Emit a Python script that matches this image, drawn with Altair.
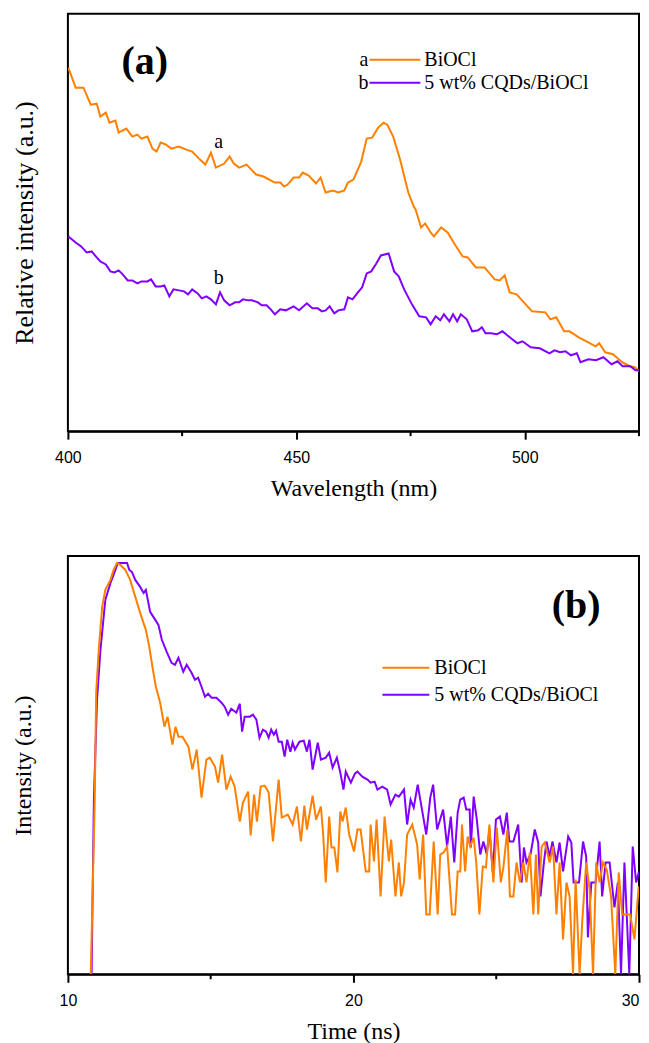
import altair as alt
import pandas as pd

# ---------------- Panel (a): PL spectra ----------------
wl_biocl = [400.1, 401.7, 403.4, 405.0, 406.3, 407.1, 408.3, 409.1, 410.4, 411.1, 412.8, 414.1, 415.2,
            416.1, 417.4, 418.5, 419.4, 420.3, 421.5, 422.6, 424.3, 425.9, 427.2, 428.9, 430.1, 431.3,
            432.4, 434.2, 435.4, 436.3, 437.5, 439.1, 441.2, 442.8, 445.3, 446.5, 447.3, 448.1, 449.4,
            450.6, 451.4, 452.7, 454.3, 455.3, 456.4, 458.0, 459.2, 460.5, 461.3, 462.5, 464.2, 465.4,
            466.6, 467.9, 469.1, 469.9, 471.2, 472.7, 474.5, 475.7, 476.1, 477.3, 478.2, 479.4, 480.1,
            481.7, 483.1, 484.7, 486.4, 487.5, 489.3, 491.2, 493.4, 494.5, 495.6, 496.7, 498.2, 501.6,
            504.5, 505.6, 506.9, 508.6, 509.8, 511.8, 513.9, 515.5, 516.3, 517.6, 519.3, 521.3, 523.0,
            524.1, 525.0]
pl_biocl = [364, 344, 344, 327, 328, 315, 319, 309, 311, 299, 303, 295, 297,
            293, 295, 283, 280, 289, 287, 283, 285, 282, 280, 272, 267, 279,
            264, 268, 275, 268, 264, 267, 257, 255, 249, 249, 245, 247, 254,
            254, 259, 256, 248, 254, 239, 241, 239, 241, 249, 252, 270, 293,
            294, 304, 309, 307, 295, 272, 239, 225, 222, 204, 208, 199, 195,
            204, 199, 187, 175, 174, 164, 164, 152, 151, 156, 139, 137, 120,
            119, 112, 114, 100, 100, 94, 89, 85, 88, 79, 77, 69, 65,
            64, 60]

wl_cqd = [400.1, 401.7, 402.9, 404.1, 405.2, 406.3, 407.1, 408.3, 409.3, 410.2, 411.1, 412.0, 413.1,
          414.1, 415.2, 416.1, 417.4, 418.2, 419.2, 420.3, 421.1, 422.2, 423.1, 424.3, 425.4, 426.3,
          427.2, 428.4, 429.3, 430.3, 431.3, 432.4, 433.3, 434.2, 435.4, 436.6, 437.5, 438.3, 439.5,
          440.3, 441.6, 442.4, 443.5, 444.4, 445.3, 446.5, 447.7, 449.4, 450.6, 452.3, 453.5, 454.7,
          455.6, 456.4, 457.3, 458.3, 459.2, 460.5, 461.3, 462.3, 463.3, 464.4, 465.4, 466.4, 467.5,
          468.5, 470.2, 471.4, 472.4, 473.6, 475.3, 476.9, 478.4, 479.4, 480.5, 481.5, 482.3, 483.5,
          484.3, 485.2, 486.0, 487.3, 488.5, 489.8, 490.6, 491.4, 492.6, 493.9, 495.1, 496.7, 498.4,
          499.5, 501.3, 503.3, 505.4, 506.5, 507.7, 508.9, 510.1, 511.4, 512.2, 513.9, 515.6, 517.2,
          519.0, 520.3, 521.4, 523.1, 524.2, 525.0]
pl_cqd = [195, 189, 185, 179, 180, 174, 170, 167, 160, 159, 161, 157, 151,
          151, 148, 150, 150, 152, 145, 145, 146, 135, 142, 141, 140, 137,
          142, 138, 133, 135, 132, 127, 139, 131, 126, 129, 129, 132, 131,
          131, 129, 126, 126, 122, 117, 122, 121, 125, 121, 128, 123, 123,
          120, 121, 125, 118, 121, 122, 134, 132, 138, 144, 158, 160, 168,
          176, 178, 160, 155, 142, 127, 115, 114, 107, 115, 111, 117, 110,
          117, 110, 117, 112, 100, 101, 104, 98, 98, 97, 100, 94, 88,
          90, 84, 83, 78, 81, 79, 80, 76, 78, 69, 72, 71, 74,
          67, 70, 65, 65, 61, 61]

# ---------------- Panel (b): decay curves ----------------
t_biocl = [10.80, 10.94, 10.99, 11.08, 11.20, 11.31, 11.49, 11.60, 11.72, 11.84, 12.01, 12.18, 12.36,
           12.53, 12.73, 12.85, 12.96, 13.08, 13.23, 13.38, 13.49, 13.66, 13.77, 13.87, 14.01, 14.22,
           14.36, 14.51, 14.68, 14.85, 14.97, 15.15, 15.26, 15.40, 15.55, 15.70, 15.84, 16.02, 16.13,
           16.31, 16.40, 16.52, 16.62, 16.75, 16.89, 17.03, 17.18, 17.38, 17.49, 17.70, 17.87, 18.02,
           18.16, 18.28, 18.37, 18.57, 18.69, 18.86, 18.94, 19.03, 19.15, 19.23, 19.33, 19.44, 19.54,
           19.62, 19.73, 19.85, 20.02, 20.14, 20.25, 20.43, 20.55, 20.60, 20.72, 20.81, 20.95, 21.09,
           21.24, 21.32, 21.47, 21.59, 21.67, 21.77, 21.88, 22.06, 22.23, 22.32, 22.44, 22.55, 22.67,
           22.81, 22.95, 23.04, 23.16, 23.28, 23.45, 23.56, 23.65, 23.74, 23.80, 23.91, 24.00, 24.09,
           24.21, 24.30, 24.41, 24.53, 24.64, 24.76, 24.90, 25.02, 25.16, 25.25, 25.39, 25.48, 25.60,
           25.71, 25.83, 25.95, 26.06, 26.18, 26.30, 26.39, 26.47, 26.59, 26.70, 26.87, 26.99, 27.11,
           27.22, 27.34, 27.46, 27.57, 27.69, 27.78, 27.92, 28.01, 28.15, 28.27, 28.39, 28.50, 28.62,
           28.74, 28.87, 29.02, 29.17, 29.29, 29.41, 29.55, 29.69, 29.84, 29.99]
tr_biocl = [0, 175, 282, 325, 368, 385, 395, 405, 412, 410, 405, 395, 378,
            362, 345, 328, 308, 288, 272, 248, 258, 230, 248, 238, 238, 228,
            205, 225, 177, 215, 217, 208, 192, 220, 185, 198, 188, 153, 172,
            183, 139, 180, 153, 188, 189, 182, 133, 195, 157, 160, 150, 168,
            133, 169, 145, 179, 155, 168, 140, 92, 158, 127, 127, 102, 163,
            153, 167, 140, 123, 145, 145, 103, 103, 150, 113, 155, 78, 158,
            113, 135, 78, 112, 78, 92, 140, 150, 130, 95, 140, 60, 60,
            133, 60, 120, 122, 128, 60, 60, 103, 103, 150, 103, 138, 128,
            137, 112, 60, 108, 107, 150, 92, 147, 92, 107, 145, 78, 78,
            112, 92, 112, 92, 122, 60, 120, 60, 128, 132, 112, 128, 60,
            112, 35, 92, 78, 0, 95, 0, 52, 112, 85, 0, 112, 92,
            112, 105, 78, 0, 102, 60, 60, 60, 35, 88]

t_cqd = [10.83, 10.91, 11.02, 11.14, 11.31, 11.49, 11.60, 11.75, 11.95, 12.07, 12.15, 12.24, 12.36,
         12.53, 12.65, 12.73, 12.88, 13.06, 13.17, 13.29, 13.46, 13.63, 13.75, 13.87, 14.04, 14.16,
         14.33, 14.45, 14.56, 14.68, 14.80, 14.91, 15.03, 15.20, 15.38, 15.49, 15.61, 15.72, 15.90,
         16.02, 16.10, 16.19, 16.37, 16.48, 16.60, 16.71, 16.83, 16.94, 17.03, 17.12, 17.21, 17.29,
         17.38, 17.49, 17.59, 17.68, 17.79, 17.87, 17.95, 18.11, 18.26, 18.37, 18.46, 18.57, 18.75,
         18.86, 19.03, 19.15, 19.27, 19.42, 19.54, 19.65, 19.73, 19.91, 20.05, 20.14, 20.31, 20.49,
         20.60, 20.74, 20.84, 21.01, 21.18, 21.30, 21.47, 21.59, 21.77, 21.88, 22.00, 22.11, 22.25,
         22.40, 22.55, 22.69, 22.79, 22.93, 23.14, 23.28, 23.41, 23.53, 23.65, 23.74, 23.86, 23.95,
         24.07, 24.11, 24.21, 24.32, 24.44, 24.55, 24.67, 24.76, 24.88, 24.99, 25.13, 25.25, 25.37,
         25.46, 25.60, 25.77, 25.89, 25.97, 26.06, 26.20, 26.35, 26.47, 26.55, 26.67, 26.76, 26.87,
         26.97, 27.11, 27.22, 27.34, 27.52, 27.63, 27.71, 27.90, 28.04, 28.15, 28.21, 28.33, 28.48,
         28.62, 28.71, 28.83, 28.97, 29.14, 29.26, 29.37, 29.49, 29.66, 29.78, 29.90, 29.99]
tr_cqd = [0, 175, 275, 325, 375, 392, 400, 412, 412, 412, 405, 403, 395,
          388, 382, 385, 363, 355, 350, 335, 323, 312, 310, 317, 303, 310,
          302, 295, 297, 288, 278, 281, 277, 277, 272, 268, 260, 266, 262,
          271, 243, 258, 258, 260, 255, 237, 245, 243, 237, 245, 240, 244,
          233, 233, 218, 235, 223, 232, 225, 233, 234, 223, 235, 205, 232,
          215, 217, 222, 207, 217, 202, 185, 203, 192, 201, 203, 198, 195,
          192, 193, 185, 188, 185, 170, 180, 178, 185, 150, 175, 167, 190,
          165, 140, 177, 190, 145, 165, 128, 158, 112, 162, 175, 177, 165,
          165, 127, 178, 155, 120, 133, 120, 145, 102, 155, 158, 140, 162,
          133, 133, 150, 92, 127, 112, 120, 145, 132, 78, 112, 133, 118,
          133, 112, 132, 103, 138, 132, 92, 92, 133, 118, 37, 92, 92,
          133, 78, 112, 112, 67, 92, 0, 112, 0, 128, 92, 102]

# ---------------- Axis ticks, labels, legends ----------------
major_a = [400, 450, 500]
minor_a = [425, 475, 525]
major_b = [10, 20, 30]
minor_b = [15, 25]

series_names = ["BiOCl", "5 wt% CQDs/BiOCl"]
series_tags = ["a", "b"]
colors = ["#FF8000", "#8000FF"]

curve_label_text = ["a", "b"]
curve_label_x = [433, 433]
curve_label_y = [290, 153]

SERIF = "Liberation Serif"
SANS = "Liberation Sans"
W = 572
HA = 418
HB = 419


def make_x(domain, values, title, last):
    return alt.X("x:Q", scale=alt.Scale(domain=domain, nice=False, zero=False),
                 axis=alt.Axis(values=values, title=title, orient="bottom", grid=False,
                               tickSize=8, tickWidth=2, tickColor="black",
                               domainWidth=2, domainColor="black",
                               labelFont=SANS, labelFontSize=16, labelColor="black",
                               labelPadding=10, labelFlush=False, format="d",
                               labelAlign={"condition": {"test": f"datum.value >= {last}", "value": "right"},
                                           "value": "center"},
                               titleFont=SERIF, titleFontSize=24, titleFontWeight="normal",
                               titleColor="black", titlePadding=11))


def make_y(domain, title, size, pad):
    return alt.Y("y:Q", scale=alt.Scale(domain=domain, nice=False, zero=False),
                 axis=alt.Axis(title=title, labels=False, ticks=False, domain=False, grid=False,
                               titleFont=SERIF, titleFontSize=size, titleFontWeight="normal",
                               titleColor="black", titlePadding=pad))


def curves(X, Y, series):
    layers = []
    for xs, ys, color in series:
        df = pd.DataFrame({"x": xs, "y": ys, "i": list(range(len(xs)))})
        layers.append(alt.Chart(df).mark_line(color=color, strokeWidth=2, clip=True)
                      .encode(x=X, y=Y, order="i:Q"))
    return layers


def minor_ticks(X, values, H):
    df = pd.DataFrame({"x": values})
    return alt.Chart(df).mark_rule(color="black", strokeWidth=2).encode(
        x=X, y=alt.value(H), y2=alt.value(H + 5))


def legend_rows(x_line0, x_line1, x_text, rows_y, tags=None):
    layers = []
    for k in range(2):
        layers.append(alt.Chart().mark_rule(color=colors[k], strokeWidth=2).encode(
            x=alt.value(x_line0), x2=alt.value(x_line1), y=alt.value(rows_y[k])))
        layers.append(alt.Chart().mark_text(text=series_names[k], align="left", baseline="middle",
                                            font=SERIF, fontSize=20, color="black").encode(
            x=alt.value(x_text), y=alt.value(rows_y[k])))
        if tags:
            layers.append(alt.Chart().mark_text(text=tags[k], align="right", baseline="middle",
                                                font=SERIF, fontSize=20, color="black").encode(
                x=alt.value(x_line0 - 1), y=alt.value(rows_y[k])))
    return layers


# ---------- panel (a) ----------
Xa = make_x([400, 525], major_a, "Wavelength (nm)", 525)
Ya = make_y([0, HA], "Relative intensity (a.u.)", 26, 30)
layers_a = curves(Xa, Ya, [(wl_biocl, pl_biocl, colors[0]), (wl_cqd, pl_cqd, colors[1])])
layers_a.append(minor_ticks(Xa, minor_a, HA))
lab_df = pd.DataFrame({"x": curve_label_x, "y": curve_label_y, "t": curve_label_text})
layers_a.append(alt.Chart(lab_df).mark_text(font=SERIF, fontSize=20, color="black",
                                            baseline="middle").encode(x=Xa, y=Ya, text="t:N"))
layers_a += legend_rows(302, 353, 357, [46, 69], tags=series_tags)
layers_a.append(alt.Chart().mark_text(text="(a)", font=SERIF, fontSize=40, fontWeight="bold",
                                      color="black", baseline="middle").encode(
    x=alt.value(77), y=alt.value(48)))
panel_a = alt.layer(*layers_a).properties(width=W, height=HA)

# ---------- panel (b) ----------
Xb = make_x([10, 30], major_b, "Time (ns)", 30)
Yb = make_y([0, HB], "Intensity (a.u.)", 24, 32)
layers_b = curves(Xb, Yb, [(t_cqd, tr_cqd, colors[1]), (t_biocl, tr_biocl, colors[0])])
layers_b.append(minor_ticks(Xb, minor_b, HB))
layers_b += legend_rows(315, 362, 367, [112, 139])
layers_b.append(alt.Chart().mark_text(text="(b)", font=SERIF, fontSize=40, fontWeight="bold",
                                      color="black", baseline="middle").encode(
    x=alt.value(509), y=alt.value(50)))
panel_b = alt.layer(*layers_b).properties(width=W, height=HB)

chart = alt.vconcat(panel_a, panel_b, spacing=54).configure(
    padding={"left": 3, "top": 4, "right": 0, "bottom": 0},
    background="white",
    view=alt.ViewConfig(stroke="black", strokeWidth=2),
)

chart.save("out.html", embed_options={"renderer": "svg", "actions": False})
